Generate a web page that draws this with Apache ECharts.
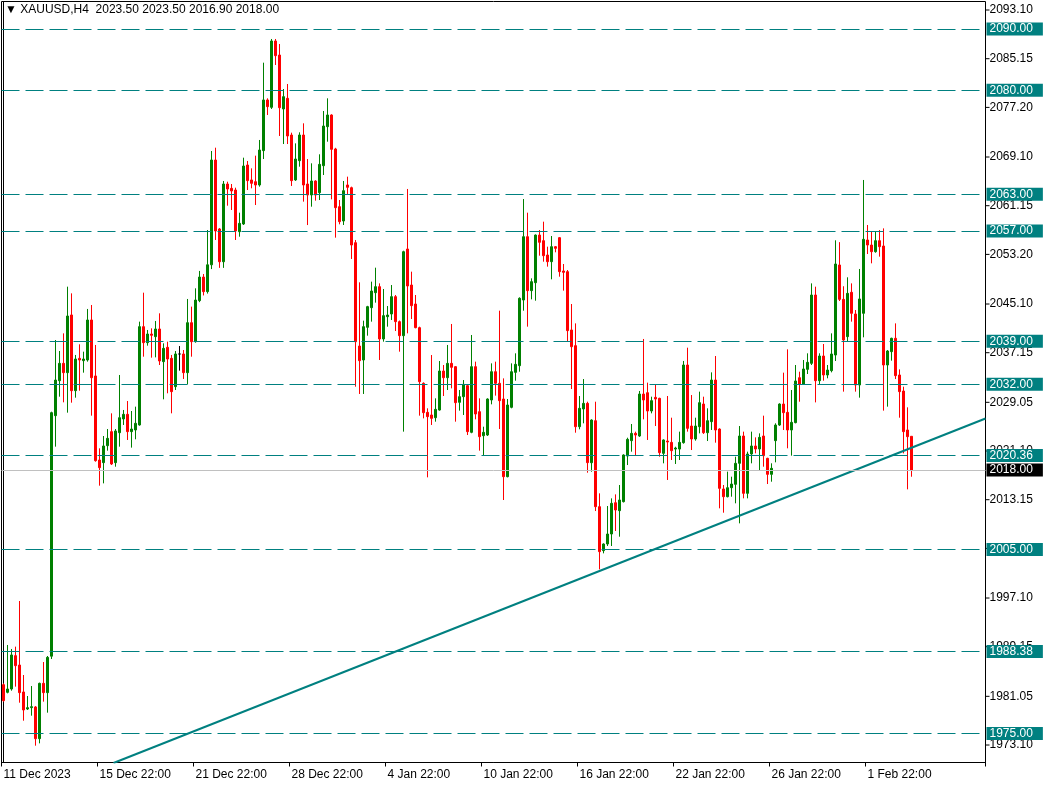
<!DOCTYPE html>
<html>
<head>
<meta charset="utf-8">
<script src="https://cdn.jsdelivr.net/npm/echarts@6/dist/echarts.min.js"></script>
<style>
html,body{margin:0;padding:0;background:#fff;}
#chart{width:1049px;height:788px;}
</style>
</head>
<body>
<div id="chart"></div>
<script>
// ---- DATA ----
const titleText = '\u25BC XAUUSD,H4  2023.50 2023.50 2016.90 2018.00';
const dateLabels = ['11 Dec 2023','15 Dec 22:00','21 Dec 22:00','28 Dec 22:00','4 Jan 22:00','10 Jan 22:00','16 Jan 22:00','22 Jan 22:00','26 Jan 22:00','1 Feb 22:00'];
const barsPerLabel = 24;
const totalSlots = 246; // bars + empty shift space on the right
const priceTicks = [1973.10,1981.05,1989.15,1997.10,2005.20,2013.15,2021.10,2029.05,2037.15,2045.10,2053.20,2061.15,2069.10,2077.20,2085.15,2093.10];
const levels = [2090.00,2080.00,2063.00,2057.00,2039.00,2032.00,2020.36,2005.00,1988.38,1975.00];
const currentPrice = 2018.00;
const trendline = [[27.5,1970.16],[245.5,2026.40]];

const open = [
1982.95,1981.70,1982.24,1987.69,1986.16,1981.76,1978.98,1979.20,1979.31,1974.14,
1983.17,1981.65,1987.60,2026.87,2032.58,2035.41,2033.89,2043.31,2030.95,2036.23,
2035.85,2035.96,2042.49,2033.35,2019.63,2019.20,2021.97,2024.26,2019.20,2024.09,
2026.33,2027.09,2024.26,2024.53,2025.35,2041.40,2038.79,2040.20,2039.77,2041.02,
2035.69,2038.03,2036.23,2031.61,2036.94,2036.94,2033.89,2042.05,2038.95,2045.65,
2049.50,2047.12,2051.50,2068.61,2057.35,2052.00,2064.69,2063.98,2063.71,2056.91,
2058.16,2067.79,2065.35,2065.07,2064.53,2070.14,2078.41,2077.21,2088.04,2085.75,
2076.94,2078.68,2072.69,2065.35,2068.50,2072.69,2064.69,2062.90,2065.18,2063.28,
2067.68,2074.05,2075.96,2070.41,2060.99,2058.65,2064.53,2064.09,2055.11,2038.24,
2035.96,2041.29,2044.50,2046.95,2047.93,2039.39,2043.03,2043.47,2046.30,2042.22,
2039.93,2054.08,2048.20,2045.10,2041.24,2032.15,2027.41,2026.98,2026.54,2027.79,
2034.16,2033.07,2035.41,2034.87,2029.05,2029.97,2031.77,2024.15,2034.87,2027.52,
2023.60,2023.71,2029.43,2034.05,2032.15,2029.59,2016.91,2028.23,2033.94,2035.03,
2045.75,2056.09,2047.28,2048.58,2056.36,2055.44,2053.10,2052.01,2054.46,2055.93,
2050.49,2050.38,2040.86,2038.30,2025.07,2027.96,2028.88,2019.19,2026.05,2012.01,
2004.83,2005.92,2007.55,2012.66,2011.36,2012.83,2020.28,2022.79,2023.98,2023.55,
2030.40,2030.62,2027.63,2029.86,2029.70,2020.72,2022.73,2022.51,2021.42,2021.42,
2022.46,2035.14,2025.18,2023.06,2025.07,2028.77,2024.09,2025.89,2032.69,2024.69,
2014.90,2013.64,2015.11,2015.66,2019.09,2023.55,2014.19,2020.61,2021.92,2021.43,
2023.55,2019.90,2017.29,2022.79,2025.34,2028.77,2027.41,2024.53,2025.73,2033.07,
2031.98,2034.43,2035.41,2046.57,2032.58,2036.61,2033.51,2034.22,2036.77,2051.47,
2045.86,2039.77,2047.01,2043.47,2031.88,2043.58,2055.55,2054.73,2053.64,2055.44,
2054.57,2035.14,2037.32,2039.50,2033.51,2030.89,2024.53,2023.50];
const high = [
1983.17,1989.43,1988.78,1989.16,1996.61,1984.53,1981.10,1982.73,1979.47,1983.28,
1986.65,1987.63,2027.52,2039.22,2037.43,2040.31,2047.93,2046.84,2036.78,2038.52,
2037.32,2044.29,2044.94,2038.41,2021.54,2023.55,2024.69,2027.25,2024.69,2033.51,
2027.80,2029.26,2027.63,2028.34,2042.22,2046.95,2040.86,2041.13,2042.33,2043.58,
2038.68,2038.95,2036.78,2037.43,2038.24,2037.59,2045.92,2044.67,2047.66,2050.50,
2050.00,2057.18,2070.08,2070.62,2057.50,2065.18,2065.07,2064.69,2064.09,2060.01,
2068.99,2068.45,2067.25,2069.32,2071.88,2084.50,2078.68,2088.37,2088.37,2087.55,
2080.20,2081.02,2073.07,2071.33,2073.13,2074.60,2068.77,2068.07,2065.30,2069.54,
2076.61,2078.68,2076.07,2070.60,2062.08,2065.18,2065.89,2064.26,2055.55,2048.64,
2042.38,2044.80,2048.75,2051.03,2048.47,2047.55,2044.77,2048.20,2046.57,2042.40,
2053.80,2063.88,2050.38,2046.57,2041.40,2032.31,2028.07,2036.77,2029.70,2035.79,
2035.14,2038.41,2041.84,2034.95,2031.06,2032.69,2031.88,2040.04,2035.69,2029.70,
2025.07,2029.70,2035.41,2035.69,2044.01,2032.96,2029.59,2035.41,2037.05,2046.19,
2062.24,2060.01,2049.29,2056.45,2057.18,2058.54,2054.46,2056.20,2054.57,2056.00,
2051.63,2050.65,2045.10,2041.94,2030.08,2032.85,2029.15,2026.27,2029.15,2014.19,
2006.02,2012.12,2013.37,2014.02,2015.55,2020.56,2023.27,2025.51,2024.26,2030.90,
2039.39,2032.26,2029.97,2031.88,2029.80,2023.00,2030.08,2026.54,2021.80,2024.26,
2035.80,2037.97,2030.24,2026.54,2030.79,2029.97,2028.07,2033.94,2036.61,2024.80,
2015.55,2017.73,2016.91,2020.17,2025.18,2024.26,2020.99,2024.26,2023.33,2023.98,
2026.87,2020.00,2019.09,2025.62,2028.88,2033.89,2037.70,2031.06,2035.14,2034.05,
2035.96,2037.05,2048.47,2047.93,2037.05,2038.57,2035.14,2040.31,2055.50,2055.20,
2048.00,2049.46,2048.47,2044.12,2050.82,2065.35,2058.00,2056.91,2057.02,2057.18,
2057.45,2037.59,2039.60,2041.94,2034.43,2031.60,2028.23,2023.50];
const low = [
1980.18,1981.54,1981.97,1982.63,1980.01,1977.07,1978.82,1977.89,1972.99,1973.37,
1980.18,1978.38,1987.14,2021.81,2029.97,2029.05,2027.36,2028.99,2029.81,2030.95,
2033.89,2035.69,2026.87,2019.36,2015.44,2015.82,2021.16,2018.82,2018.54,2021.81,
2025.35,2022.90,2021.65,2023.01,2025.24,2036.50,2038.30,2036.34,2036.39,2035.14,
2029.54,2030.52,2027.25,2031.06,2034.22,2032.86,2031.99,2036.50,2038.79,2045.40,
2046.50,2046.80,2050.80,2055.55,2051.00,2051.00,2061.15,2060.45,2055.55,2056.09,
2058.00,2063.71,2063.99,2061.26,2064.26,2068.77,2075.96,2076.94,2084.12,2072.53,
2071.22,2071.22,2064.37,2065.20,2067.52,2061.81,2057.99,2060.99,2061.97,2062.08,
2066.16,2071.60,2062.19,2055.93,2058.11,2058.00,2063.06,2052.45,2031.60,2030.41,
2030.41,2039.93,2042.22,2045.32,2035.96,2038.95,2041.40,2042.49,2040.69,2037.32,
2024.26,2040.31,2042.65,2041.13,2026.87,2026.43,2016.80,2025.35,2025.89,2027.69,
2030.08,2031.06,2031.33,2025.89,2027.69,2026.98,2023.71,2024.00,2026.27,2021.16,
2020.28,2023.55,2028.72,2030.14,2024.69,2013.10,2016.80,2028.07,2032.58,2034.05,
2044.01,2041.40,2045.86,2045.64,2052.99,2052.01,2051.20,2049.13,2053.54,2049.56,
2047.28,2038.95,2031.22,2024.09,2024.64,2025.62,2017.56,2017.72,2011.30,2001.78,
2004.39,2005.59,2005.59,2008.04,2007.11,2012.70,2018.81,2020.99,2020.28,2023.40,
2026.27,2022.90,2027.25,2025.18,2020.17,2019.09,2016.37,2019.63,2018.98,2019.63,
2022.30,2024.26,2021.26,2022.79,2023.98,2023.88,2022.73,2024.53,2022.46,2011.74,
2011.03,2013.53,2013.64,2012.56,2009.29,2013.37,2013.37,2019.09,2020.72,2017.99,
2018.54,2015.71,2016.09,2019.25,2025.20,2024.53,2021.54,2020.34,2025.62,2029.15,
2031.98,2033.67,2035.14,2029.04,2032.04,2032.58,2032.97,2033.94,2035.79,2045.59,
2030.79,2038.95,2042.22,2030.79,2029.81,2039.66,2053.26,2051.74,2053.48,2052.83,
2027.69,2028.34,2035.85,2032.85,2026.54,2020.72,2014.84,2016.90];
const close = [
1980.34,1982.24,1987.80,1986.05,1981.65,1978.82,1979.20,1979.36,1974.14,1983.17,
1981.65,1987.41,2027.36,2032.69,2035.41,2033.89,2043.14,2030.95,2036.12,2035.96,
2036.12,2042.49,2033.07,2019.52,2018.38,2021.92,2023.17,2018.98,2024.37,2026.54,
2027.09,2024.26,2024.69,2025.62,2041.40,2038.79,2040.20,2039.99,2041.02,2035.80,
2037.86,2036.12,2030.79,2036.94,2036.94,2033.89,2042.05,2038.95,2045.75,2049.50,
2047.12,2051.50,2068.61,2057.02,2052.00,2064.69,2063.88,2063.55,2057.02,2058.27,
2067.63,2065.24,2064.80,2064.53,2070.24,2078.41,2077.32,2088.04,2085.64,2077.15,
2078.95,2072.53,2065.24,2068.77,2072.69,2064.53,2062.90,2065.18,2062.90,2067.90,
2074.16,2075.96,2070.35,2060.83,2058.54,2063.60,2064.15,2054.73,2038.95,2035.85,
2041.40,2044.67,2047.22,2047.93,2039.39,2043.20,2043.30,2046.30,2042.22,2039.93,
2053.64,2048.04,2044.83,2041.24,2032.42,2027.36,2026.71,2026.43,2027.90,2034.16,
2033.07,2035.41,2034.76,2028.99,2029.97,2031.98,2024.26,2034.87,2027.14,2023.44,
2024.15,2029.59,2034.05,2032.15,2029.32,2016.91,2028.61,2034.05,2035.25,2046.03,
2056.09,2047.28,2048.75,2056.36,2055.17,2052.99,2052.01,2054.46,2054.19,2050.38,
2050.27,2040.75,2038.13,2025.07,2028.07,2028.88,2019.20,2026.16,2012.01,2004.67,
2005.92,2007.55,2012.56,2011.47,2013.10,2020.45,2023.00,2023.98,2023.71,2030.40,
2029.43,2027.63,2029.32,2029.59,2020.83,2022.90,2022.57,2021.15,2021.59,2022.51,
2035.14,2024.80,2023.06,2025.18,2028.99,2024.09,2026.05,2032.69,2024.53,2015.00,
2013.64,2015.11,2015.71,2019.09,2023.55,2014.19,2020.61,2021.92,2021.43,2023.33,
2020.34,2017.29,2018.27,2025.34,2028.77,2027.36,2024.53,2025.78,2032.53,2031.98,
2034.49,2035.58,2046.57,2032.58,2036.61,2033.51,2034.32,2036.94,2051.63,2045.86,
2039.22,2046.84,2043.58,2031.88,2045.92,2055.66,2054.73,2053.64,2055.44,2054.46,
2035.14,2037.43,2039.50,2033.40,2030.79,2024.26,2023.44,2018.00];

// ---- BUILD ----
const categories = Array.from({length: totalSlots}, (_, i) => String(i));
const candles = open.map((o, i) => [o, close[i], low[i], high[i]]);
const FONT = 'Liberation Sans';
const TEAL = '#008080';

const levelLines = levels.map(v => ({
  yAxis: v,
  lineStyle: {color: TEAL, type: [18, 6], width: 1},
  label: {backgroundColor: TEAL, color: '#fff'}
}));
levelLines.push({
  yAxis: currentPrice,
  lineStyle: {color: '#c0c0c0', type: 'solid', width: 1},
  label: {backgroundColor: '#000', color: '#fff'}
});

const isLabelIdx = (idx) => idx % barsPerLabel === 0 && idx / barsPerLabel < dateLabels.length;

const chart = echarts.init(document.getElementById('chart'), null, {renderer: 'canvas'});
chart.setOption({
  animation: false,
  backgroundColor: '#fff',
  textStyle: {fontFamily: FONT},
  grid: {left: 1.5, top: 1.5, width: 984, height: 761, show: true, borderColor: '#000', borderWidth: 1, backgroundColor: '#fff'},
  graphic: [{
    type: 'text', left: 5, top: 4, z: 100,
    style: {text: titleText, font: '12px ' + FONT, fill: '#000'}
  }],
  xAxis: [{
    type: 'category', data: categories, boundaryGap: true, position: 'bottom',
    axisLine: {show: true, lineStyle: {color: '#000', width: 1}},
    axisTick: {show: true, interval: (idx) => isLabelIdx(idx), length: 4, lineStyle: {color: '#000'}},
    axisLabel: {show: true, interval: (idx) => isLabelIdx(idx), align: 'left', margin: 6, color: '#000', fontSize: 12, fontFamily: FONT,
      formatter: (v, idx) => isLabelIdx(idx) ? dateLabels[idx / barsPerLabel] : ''},
    splitLine: {show: false}
  }, {
    type: 'value', min: -0.5, max: totalSlots - 0.5, show: false, gridIndex: 0
  }],
  yAxis: [{
    type: 'value', position: 'right', min: 1970.245, max: 2094.488,
    axisLine: {show: true, lineStyle: {color: '#000', width: 1}},
    axisTick: {show: false},
    axisLabel: {show: true, customValues: priceTicks, margin: 0, color: '#000', fontSize: 12, fontFamily: FONT,
      formatter: (v) => '{t|}{v|' + Number(v).toFixed(2) + '}',
      rich: {
        t: {width: 4, height: 1, backgroundColor: '#000', verticalAlign: 'middle'},
        v: {color: '#000', fontSize: 12, fontFamily: FONT, verticalAlign: 'middle'}
      }},
    splitLine: {show: false},
    minorTick: {show: false},
    minorSplitLine: {show: false}
  }],
  series: [{
    type: 'candlestick', name: 'XAUUSD', data: candles, xAxisIndex: 0, yAxisIndex: 0,
    barWidth: 2,
    itemStyle: {color: '#008000', color0: '#ff0000', borderColor: '#008000', borderColor0: '#ff0000', borderColorDoji: '#000000', borderWidth: 1},
    markLine: {
      silent: true, symbol: 'none', animation: false,
      label: {show: true, position: 'end', distance: 1, fontSize: 12, fontFamily: FONT, lineHeight: 12,
        padding: [1, 10, 0, 3], formatter: (p) => Number(p.value).toFixed(2)},
      data: levelLines
    }
  }, {
    type: 'line', name: 'trend', xAxisIndex: 1, yAxisIndex: 0, data: trendline,
    symbol: 'none', clip: true, silent: true,
    lineStyle: {color: TEAL, width: 2}
  }]
});
</script>
</body>
</html>
